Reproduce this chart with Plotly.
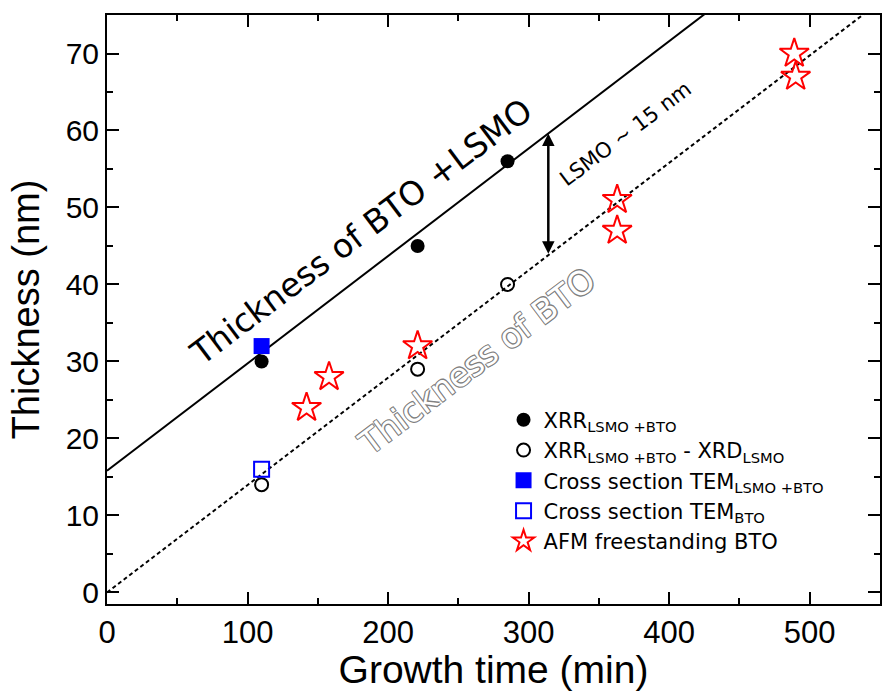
import plotly.graph_objects as go

# ---- data ----
xrr_x = [110, 221, 285]
xrr_y = [30, 45, 56]

xrr_minus_x = [110, 221, 285]
xrr_minus_y = [14, 29, 40]

tem_total_x = [110]
tem_total_y = [32]

tem_bto_x = [110]
tem_bto_y = [16]

afm_x = [142, 158, 221, 363, 363, 489, 490]
afm_y = [24, 28, 32, 51, 47, 70, 67]

# linear fits (slope, intercept)
fit_total = [0.1395, 15.8]
fit_bto = [0.1395, 0.0]
fit_x = [0, 550]

arrow_x = [314]

x_ticks = [0, 100, 200, 300, 400, 500]
y_ticks = [0, 10, 20, 30, 40, 50, 60, 70]

# ---- figure ----
fig = go.Figure()

fig.add_trace(go.Scatter(
    x=fit_x, y=[fit_total[0] * v + fit_total[1] for v in fit_x],
    mode="lines", line=dict(color="black", width=2), showlegend=False, hoverinfo="skip"))
fig.add_trace(go.Scatter(
    x=fit_x, y=[fit_bto[0] * v + fit_bto[1] for v in fit_x],
    mode="lines", line=dict(color="black", width=2, dash="4px,3px"), showlegend=False, hoverinfo="skip"))

fig.add_trace(go.Scatter(
    x=xrr_x, y=xrr_y, mode="markers",
    marker=dict(symbol="circle", size=14, color="black"),
    name="XRR<sub>LSMO +BTO</sub>", legendgroup="a"))
fig.add_trace(go.Scatter(
    x=xrr_minus_x, y=xrr_minus_y, mode="markers",
    marker=dict(symbol="circle-open", size=13, color="black", line=dict(width=2)),
    name="XRR<sub>LSMO +BTO</sub> - XRD<sub>LSMO</sub>", legendgroup="b"))
fig.add_trace(go.Scatter(
    x=tem_total_x, y=tem_total_y, mode="markers",
    marker=dict(symbol="square", size=16, color="#0000ff"),
    name="Cross section TEM<sub>LSMO +BTO</sub>", legendgroup="c"))
fig.add_trace(go.Scatter(
    x=tem_bto_x, y=tem_bto_y, mode="markers",
    marker=dict(symbol="square-open", size=15, color="#0000ff", line=dict(width=2)),
    name="Cross section TEM<sub>BTO</sub>", legendgroup="d"))
fig.add_trace(go.Scatter(
    x=afm_x, y=afm_y, mode="markers",
    marker=dict(symbol="star-open", size=22, color="#ff0000", line=dict(width=2)),
    name="AFM freestanding BTO", legendgroup="e"))

# arrow between the two fits
ax_x = arrow_x[0]
y_top = fit_total[0] * ax_x + fit_total[1]
y_bot = fit_bto[0] * ax_x + fit_bto[1]
fig.add_annotation(
    x=ax_x, y=y_top, ax=ax_x, ay=y_bot, xref="x", yref="y", axref="x", ayref="y",
    text="", showarrow=True, arrowhead=2, arrowside="end+start",
    arrowsize=1, arrowwidth=2.5, arrowcolor="black")

fig.add_annotation(
    x=181, y=46.9, xref="x", yref="y", text="Thickness of BTO +LSMO",
    showarrow=False, textangle=-37,
    font=dict(family="DejaVu Sans", size=33, color="black"))

fig.add_annotation(
    x=263, y=30.0, xref="x", yref="y", text="Thickness of BTO",
    showarrow=False, textangle=-37,
    font=dict(family="DejaVu Sans", size=33, color="white",
              shadow="-1px -1px 0 #808080, 1px -1px 0 #808080, -1px 1px 0 #808080, 1px 1px 0 #808080"))

fig.add_annotation(
    x=369, y=59.5, xref="x", yref="y", text="LSMO ~ 15 nm",
    showarrow=False, textangle=-37,
    font=dict(family="DejaVu Sans", size=21, color="black"))

axis_common = dict(
    showline=True, linecolor="black", linewidth=2, mirror="ticks",
    ticks="inside", ticklen=12, tickwidth=2, tickcolor="black",
    showgrid=False, zeroline=False,
)

fig.update_xaxes(
    **axis_common, range=[0, 550], tickvals=x_ticks,
    minor=dict(dtick=50, tick0=0, ticks="inside", ticklen=6, tickwidth=2, tickcolor="black"),
    tickfont=dict(family="Liberation Sans", size=31, color="black"),
    title=dict(text="Growth time (min)", standoff=5,
               font=dict(family="Liberation Sans", size=39, color="black")),
)
fig.update_yaxes(
    **axis_common, range=[-1.5, 75], tickvals=y_ticks,
    minor=dict(dtick=5, tick0=0, ticks="inside", ticklen=6, tickwidth=2, tickcolor="black"),
    tickfont=dict(family="Liberation Sans", size=30, color="black"),
    title=dict(text="Thickness (nm)", standoff=14,
               font=dict(family="Liberation Sans", size=38, color="black")),
)

fig.update_layout(
    width=884, height=691,
    margin=dict(l=107, r=4, t=15, b=87, autoexpand=False),
    paper_bgcolor="white", plot_bgcolor="white",
    legend=dict(x=0.513, y=0.347, xanchor="left", yanchor="top",
                bgcolor="rgba(0,0,0,0)", borderwidth=0,
                font=dict(family="DejaVu Sans", size=21, color="black"),
                tracegroupgap=0),
)

fig.write_html("out.html")
